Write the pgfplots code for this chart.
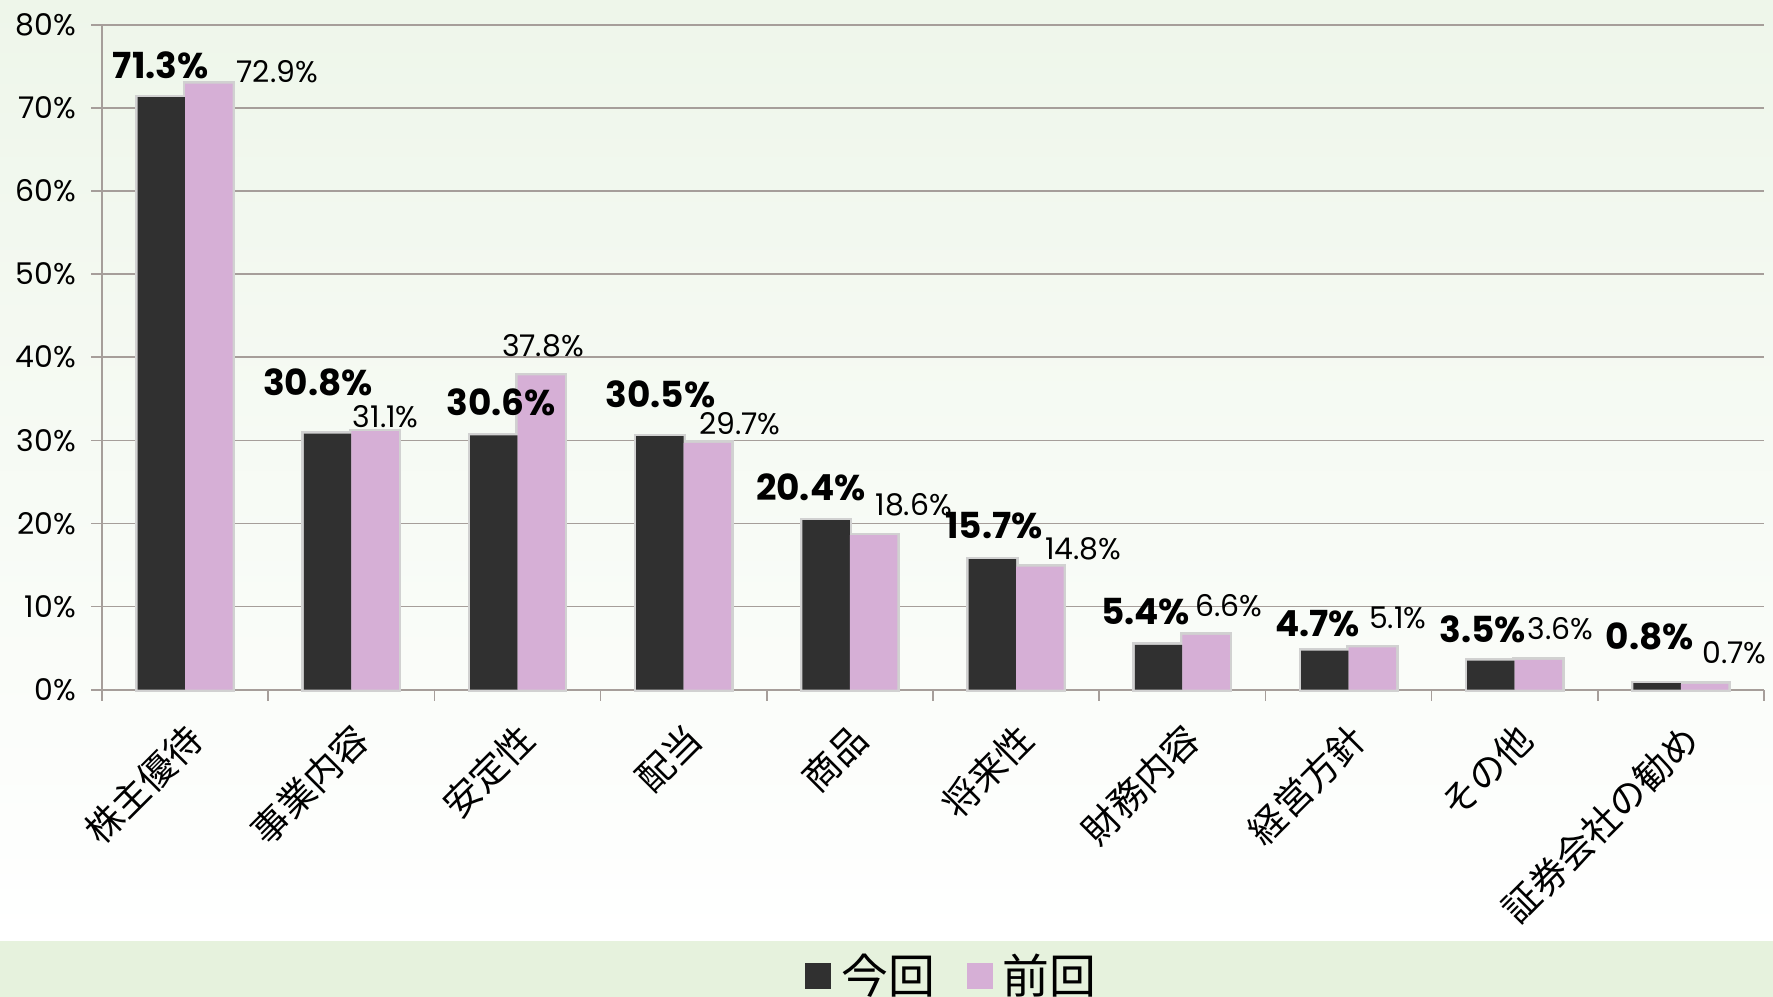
\documentclass[border=0pt]{standalone}
\usepackage{pgfplots}
\pgfplotsset{compat=1.18}
\usepackage{fontspec}
\setmainfont{Poppins}
\newfontfamily\jp{Noto Sans CJK JP}
\definecolor{barA}{RGB}{48,48,48}
\definecolor{barB}{RGB}{214,175,214}
\definecolor{gridc}{RGB}{166,158,154}
\definecolor{bgtop}{RGB}{238,246,234}
\definecolor{band}{RGB}{230,242,221}
\begin{document}
\begin{tikzpicture}
\shade[top color=bgtop, bottom color=white] (-51bp,-125.65bp) rectangle (835.5bp,344.85bp);
\fill[band] (-51bp,-153.65bp) rectangle (835.5bp,-125.65bp);
\begin{axis}[
  at={(0,0)}, anchor=south west,
  scale only axis, width=831bp, height=332.5bp,
  xmin=-0.5, xmax=9.5, ymin=0, ymax=80,
  clip=false,
  axis lines=left, axis line style={draw=gridc, line width=0.8bp, -},
  ymajorgrids, grid style={gridc, line width=0.8bp},
  ytick={0,10,...,80},
  yticklabel={\pgfmathprintnumber{\tick}\%},
  /pgf/number format/assume math mode=true,
  yticklabel style={font=\fontsize{15}{15}\selectfont, xshift=-4bp},
  tick align=outside, major tick length=5.5bp,
  tick style={draw=gridc, line width=0.8bp},
  xtick={-0.5,0.5,...,9.5}, xticklabels={},
  extra x ticks={0,1,2,3,4,5,6,7,8,9},
  extra x tick labels={株主優待,事業内容,安定性,配当,商品,将来性,財務内容,経営方針,その他,証券会社の勧め},
  extra x tick style={major tick length=0pt, xticklabel style={rotate=45, anchor=east, font=\jp\fontsize{18.5}{18.5}\selectfont, yshift=-19bp, xshift=-8bp}},
  legend style={at={(0.512,-0.43)}, anchor=center, draw=none, fill=none, legend columns=2,
    font=\jp\fontsize{23.5}{23.5}\selectfont,
    /tikz/every odd column/.append style={column sep=3bp},
    /tikz/every even column/.append style={column sep=14bp}},
]
% shadows
\addplot[ybar, forget plot, bar width=23.74bp, bar shift=-11.87bp, fill=none, draw=black!18, line width=2.5bp] coordinates {(0,71.3)(1,30.8)(2,30.6)(3,30.5)(4,20.4)(5,15.7)(6,5.4)(7,4.7)(8,3.5)(9,0.8)};
\addplot[ybar, forget plot, bar width=23.74bp, bar shift=11.87bp, fill=none, draw=black!18, line width=2.5bp] coordinates {(0,72.9)(1,31.1)(2,37.8)(3,29.7)(4,18.6)(5,14.8)(6,6.6)(7,5.1)(8,3.6)(9,0.7)};
% bars
\addplot[ybar, bar width=23.74bp, bar shift=-11.87bp, fill=barA, draw=none,
  legend image code/.code={\fill[barA] (0bp,-6.5bp) rectangle (13bp,6.5bp);}]
  coordinates {(0,71.3)(1,30.8)(2,30.6)(3,30.5)(4,20.4)(5,15.7)(6,5.4)(7,4.7)(8,3.5)(9,0.8)};
\addlegendentry{今回}
\addplot[ybar, bar width=23.74bp, bar shift=11.87bp, fill=barB, draw=none,
  legend image code/.code={\fill[barB] (0bp,-6.5bp) rectangle (13bp,6.5bp);}]
  coordinates {(0,72.9)(1,31.1)(2,37.8)(3,29.7)(4,18.6)(5,14.8)(6,6.6)(7,5.1)(8,3.6)(9,0.7)};
\addlegendentry{前回}
% labels (current, bold)
\addplot[forget plot, draw=none, mark=none, point meta=explicit,
  nodes near coords={\pgfmathprintnumber[fixed,fixed zerofill,precision=1]{\pgfplotspointmeta}\%},
  every node near coord/.append style={anchor=center, inner sep=0pt, font=\bfseries\fontsize{18}{18}\selectfont}]
  table[meta=v] {
x y v
-0.146 75.1 71.3
0.799 37.0 30.8
1.901 34.6 30.6
2.861 35.5 30.5
3.765 24.4 20.4
4.867 19.7 15.7
5.779 9.4 5.4
6.813 7.9 4.7
7.806 7.3 3.5
8.813 6.4 0.8
};
% labels (previous)
\addplot[forget plot, draw=none, mark=none, point meta=explicit,
  nodes near coords={\pgfmathprintnumber[fixed,fixed zerofill,precision=1]{\pgfplotspointmeta}\%},
  every node near coord/.append style={anchor=center, inner sep=0pt, font=\fontsize{15}{15}\selectfont}]
  table[meta=v] {
x y v
0.554 74.3 72.9
1.207 32.9 31.1
2.153 41.4 37.8
3.337 32.0 29.7
4.384 22.2 18.6
5.405 17.0 14.8
6.282 10.1 6.6
7.296 8.6 5.1
8.276 7.3 3.6
9.323 4.4 0.7
};
\end{axis}
\pgfresetboundingbox
\path[use as bounding box] (-51bp,-153.65bp) rectangle (835.5bp,344.85bp);
\end{tikzpicture}
\end{document}
